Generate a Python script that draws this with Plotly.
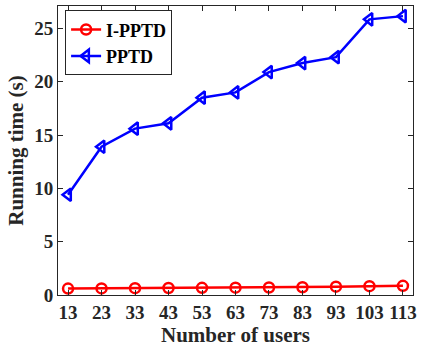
import plotly.graph_objects as go

users = [13, 23, 33, 43, 53, 63, 73, 83, 93, 103, 113]
ipptd = [0.60, 0.62, 0.64, 0.66, 0.67, 0.69, 0.70, 0.73, 0.78, 0.83, 0.86]
pptd = [9.4, 13.9, 15.6, 16.1, 18.5, 19.0, 20.9, 21.75, 22.3, 25.85, 26.15]

FAM = "Liberation Serif"
font = dict(family=FAM, size=19, color="#262626")

fig = go.Figure()
fig.add_trace(go.Scatter(x=users, y=ipptd, name="<b>I-PPTD</b>", mode="lines+markers",
                         line=dict(color="#ff0000", width=2.5),
                         marker=dict(symbol="circle-open", size=10, color="#ff0000", line=dict(width=2.5))))
fig.add_trace(go.Scatter(x=users, y=pptd, name="<b>PPTD</b>", mode="lines+markers",
                         line=dict(color="#0000ff", width=2.5),
                         marker=dict(symbol="triangle-left-open", size=11, color="#0000ff", line=dict(width=2.5))))

axis_common = dict(showgrid=False, zeroline=False, showline=True, linecolor="#262626", linewidth=1,
                   mirror="ticks", ticks="inside", ticklen=5, tickcolor="#262626",
                   tickfont=dict(family=FAM, size=19, color="#262626"))

fig.update_layout(
    width=422, height=350,
    margin=dict(l=58, r=6, t=5, b=55),
    paper_bgcolor="white", plot_bgcolor="white",
    font=font,
    showlegend=True,
    legend=dict(x=0.02, y=0.985, xanchor="left", yanchor="top",
                bordercolor="#262626", borderwidth=1, bgcolor="white",
                font=dict(family=FAM, size=18, color="black"),
                tracegroupgap=0, itemwidth=30),
    xaxis=dict(range=[10, 116], tickvals=users, ticktext=[f"<b>{u}</b>" for u in users],
               title=dict(text="<b>Number of users</b>", font=dict(size=21, family=FAM, color="#262626"), standoff=3),
               **axis_common),
    yaxis=dict(range=[0, 27.1], tickvals=[0, 5, 10, 15, 20, 25],
               ticktext=["<b>0</b>", "<b>5</b>", "<b>10</b>", "<b>15</b>", "<b>20</b>", "<b>25</b>"],
               title=dict(text="<b>Running time (s)</b>", font=dict(size=21, family=FAM, color="#262626"), standoff=4),
               **axis_common),
)

fig.write_html("out.html")
